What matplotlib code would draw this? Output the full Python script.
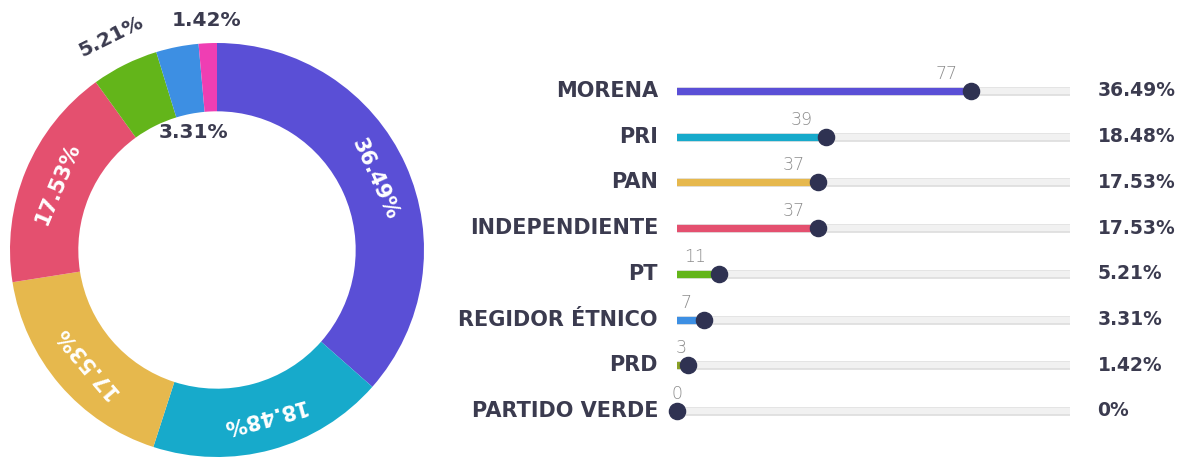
import numpy as np
import matplotlib.pyplot as plt

# datos de regidores por partido
partidos = ['MORENA', 'PRI', 'PAN', 'INDEPENDIENTE', 'PT', 'REGIDOR ÉTNICO', 'PRD', 'PARTIDO VERDE']
regidores = [77, 39, 37, 37, 11, 7, 3, 0]
porcentajes = ['36.49%', '18.48%', '17.53%', '17.53%', '5.21%', '3.31%', '1.42%', '0%']
colores_dona = ['#5a4fd6', '#17aacb', '#e6b84d', '#e4506f', '#63b51a', '#3d8fe3', '#ef3eb3', '#2e8b57']
colores_barra = ['#5a4fd6', '#17aacb', '#e6b84d', '#e4506f', '#63b51a', '#3d8fe3', '#8aa126', '#2e8b57']

oscuro = '#3b3b4f'
perilla = '#2f3252'
plt.rcParams['font.family'] = ['DejaVu Sans']

W, H = 1186, 458
fig = plt.figure(figsize=(W / 100, H / 100), dpi=100)

# dona
cx, cy, r = 217, 250, 207
ax = fig.add_axes([(cx - r) / W, (H - cy - r) / H, 2 * r / W, 2 * r / H])
vals = [v for v in regidores if v > 0]
cols = [c for v, c in zip(regidores, colores_dona) if v > 0]
ax.pie(vals, colors=cols, startangle=90, counterclock=False,
       wedgeprops=dict(width=0.33, linewidth=0))
ax.set_xlim(-1, 1)
ax.set_ylim(-1, 1)
ax.axis('off')

total = sum(regidores)
acum = 0
for i, v in enumerate(regidores):
    if v == 0:
        continue
    mid = (acum + v / 2) / total
    acum += v
    ang = 90 - mid * 360
    a = np.deg2rad(ang)
    if v / total > 0.1:
        rr = 0.835
        ax.text(rr * np.cos(a), rr * np.sin(a), porcentajes[i], color='white',
                fontsize=15, fontweight='bold', ha='center', va='center',
                rotation=ang - 90, rotation_mode='anchor')
    elif partidos[i] == 'PT':
        rr = 1.15
        ax.text(rr * np.cos(a), rr * np.sin(a), porcentajes[i], color=oscuro,
                fontsize=14.5, fontweight='bold', ha='center', va='center',
                rotation=ang - 90, rotation_mode='anchor')
    elif partidos[i] == 'REGIDOR ÉTNICO':
        rr = 0.58
        ax.text(rr * np.cos(a), rr * np.sin(a), porcentajes[i], color=oscuro,
                fontsize=14.5, fontweight='bold', ha='center', va='center')
    else:
        rr = 1.11
        ax.text(rr * np.cos(a), rr * np.sin(a), porcentajes[i], color=oscuro,
                fontsize=14.5, fontweight='bold', ha='center', va='center')

# barras tipo deslizador
x0, x1 = 677, 1070
maximo = 103
fila = 45.7
y_top = 91 - fila / 2
n = len(partidos)
bx = fig.add_axes([x0 / W, (H - (y_top + n * fila)) / H, (x1 - x0) / W, n * fila / H])
bx.set_xlim(0, maximo)
bx.set_ylim(n - 0.5, -0.5)
bx.axis('off')

px = maximo / (x1 - x0)  # unidades por pixel
for i, (p, v) in enumerate(zip(partidos, regidores)):
    bx.plot([0, maximo], [i, i], color='#dcdcdc', lw=6.2, solid_capstyle='round', zorder=1)
    bx.plot([0, maximo], [i, i], color='#f1f1f1', lw=4.6, solid_capstyle='round', zorder=1)
    if v > 0:
        bx.plot([0, v], [i, i], color=colores_barra[i], lw=5.2, solid_capstyle='round', zorder=2)
    bx.scatter([v], [i], s=135, color=perilla, zorder=3, clip_on=False)
    off = min(24, 2.5 * v) * px
    bx.text(v - off, i - 0.37, str(v), color='#8c8c8c', fontsize=12.5, fontweight='light',
            ha='center', va='center', clip_on=False)
    bx.text(-19 * px, i, p, color=oscuro, fontsize=15, fontweight='bold',
            ha='right', va='center', clip_on=False)
    bx.text(110.2, i, porcentajes[i], color=oscuro, fontsize=13.5, fontweight='bold',
            ha='left', va='center', clip_on=False)

fig.savefig('out.png', dpi=100, facecolor='white')
